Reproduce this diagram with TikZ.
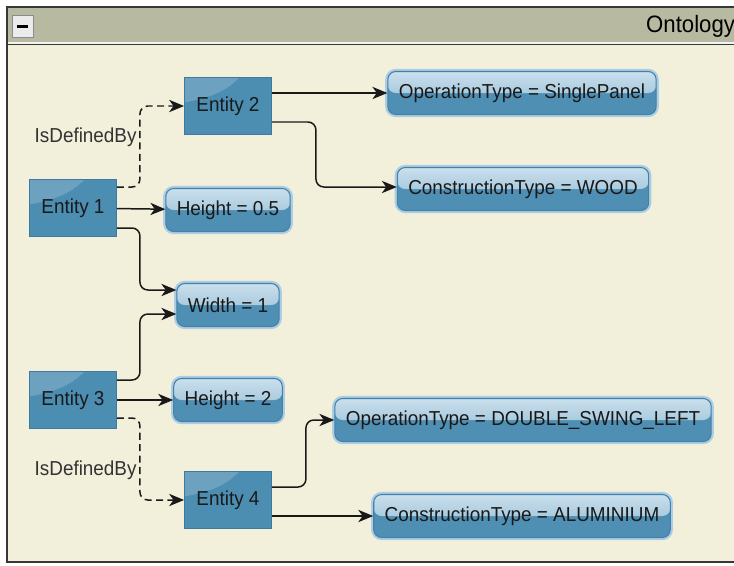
\documentclass[tikz,border=0pt]{standalone}
\usepackage{fontspec}
\setmainfont{Liberation Sans}[FakeStretch=0.935]
\usetikzlibrary{arrows.meta,calc}

\definecolor{panelbg}{RGB}{242,239,219}
\definecolor{titlebar}{RGB}{184,185,161}
\definecolor{framecol}{RGB}{55,55,55}
\definecolor{entfill}{RGB}{76,142,178}
\definecolor{entline}{RGB}{62,122,160}
\definecolor{valfill}{RGB}{80,143,180}
\definecolor{valhi}{RGB}{202,223,236}
\definecolor{valmid}{RGB}{138,183,210}
\definecolor{valglow}{RGB}{172,206,229}
\definecolor{valline}{RGB}{68,128,168}

\tikzset{
    entity/.style={rectangle, fill=entfill, draw=entline, line width=0.5pt,
        minimum width=1.74cm, minimum height=1.14cm, text=black!90,
        path picture={\fill[white, opacity=0.18] (path picture bounding box.north west)
            -- ++(1.1cm,0) .. controls +(-0.3cm,-0.3cm) and +(0.5cm,0.1cm) .. ([yshift=-0.5cm]path picture bounding box.north west) -- cycle;}},
    value/.style={rectangle, rounded corners=4.5pt, fill=valfill, draw=valline, line width=0.6pt,
        minimum height=0.86cm, inner xsep=0.22cm, text=black!90,
        preaction={draw=valglow, line width=3pt},
        path picture={\shade[top color=valhi, bottom color=valmid] (path picture bounding box.north west)
            rectangle (path picture bounding box.east);}},
    link/.style={draw=black!90, line width=0.85pt, rounded corners=4.5pt,
        -{Stealth[length=8.5pt, width=7pt, inset=2.5pt]}},
    isdef/.style={link, dash pattern=on 4pt off 2.5pt},
    lbl/.style={left, inner sep=1.5pt, text=black!80}
}

\begin{document}
\begin{tikzpicture}[x=0.02cm, y=-0.02cm, font=\fontsize{11.5}{13}\selectfont]
    \useasboundingbox (0,0) rectangle (734,565);
    \clip (0,0) rectangle (734,565);
    % window frame
    \fill[white] (0,0) rectangle (734,565);
    \filldraw[fill=panelbg, draw=framecol, line width=1pt] (7,7) rectangle (760,562);
    \filldraw[fill=titlebar, draw=framecol, line width=1pt] (7,7) rectangle (760,44);
    \draw[white!85!titlebar, line width=0.6pt] (8,43) -- (734,43);
    \filldraw[fill=black!8, draw=black!45, line width=0.5pt] (12,15) rectangle (33,37);
    \fill[black] (17,24.5) rectangle (28,27.5);
    \node[anchor=west, font=\fontsize{13.5}{15}\selectfont] (title) at (640,26) {Ontology};

    % entities
    \node[entity] (e1) at (73,208) {Entity 1};
    \node[entity] (e2) at (228,106) {Entity 2};
    \node[entity] (e3) at (73,400) {Entity 3};
    \node[entity] (e4) at (228,500) {Entity 4};

    % properties
    \node[value] (h1) at (228,210) {Height = 0.5};
    \node[value] (w) at (228,305) {Width = 1};
    \node[value] (h2) at (228,400) {Height = 2};
    \node[value] (op1) at (522,93) {OperationType = SinglePanel};
    \node[value] (ct1) at (523,189) {ConstructionType = WOOD};
    \node[value] (op2) at (523,420) {OperationType = DOUBLE\_SWING\_LEFT};
    \node[value] (ct2) at (522,516) {ConstructionType = ALUMINIUM};

    % links
    \foreach \a/\b in {e1/h1, e3/h2} {
        \draw[link] (\a) -- (\b);
    }
    \draw[link] (e2.east |- op1.west) -- (op1.west);
    \draw[link] (e4.east |- ct2.west) -- (ct2.west);
    \draw[isdef] ($(e1.east)+(0,-21)$) -- ++(23,0) |- node[lbl, pos=0.31] {IsDefinedBy} (e2);
    \draw[isdef] ($(e3.east)+(0,18)$) -- ++(23,0) |- node[lbl, pos=0.32] {IsDefinedBy} (e4);
    \draw[link] ($(e1.east)+(0,20)$) -- ++(23,0) |- ($(w.west)+(0,-15)$);
    \draw[link] ($(e3.east)+(0,-20)$) -- ++(23,0) |- ($(w.west)+(0,9)$);
    \draw[link] ($(e2.east)+(0,16)$) -- ++(44,0) |- ($(ct1.west)+(0,-2)$);
    \draw[link] ($(e4.east)+(0,-13)$) -- ++(34,0) |- (op2.west);
\end{tikzpicture}
\end{document}
